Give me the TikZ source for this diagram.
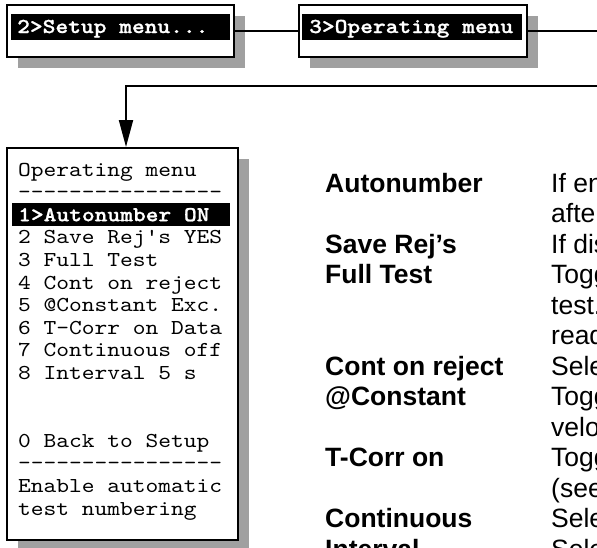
\documentclass[tikz,border=0pt]{standalone}
\usepackage{fontspec}
\setmainfont{Liberation Sans}
\setmonofont{lmmono10-regular.otf}[FakeStretch=1.143, BoldFont=lmmonolt10-bold.otf, BoldFeatures={FakeStretch=1.143, FakeBold=1}]
\usetikzlibrary{shadows,arrows.meta}
\definecolor{shadowgray}{RGB}{160,160,160}
\tikzset{
  menubox/.style={draw=black, line width=2pt, fill=white, inner sep=0pt,
    drop shadow={shadow xshift=11pt, shadow yshift=-11pt, fill=shadowgray, opacity=1}},
  hilite/.style={fill=black, inner sep=0pt, anchor=north west},
  montxt/.style={anchor=base west, inner sep=0pt, font=\ttfamily\fontsize{21.25}{22.6}\selectfont},
  monsel/.style={montxt, text=white, font=\ttfamily\bfseries\fontsize{21.25}{22.6}\selectfont},
  lbl/.style={anchor=base west, inner sep=0pt, font=\bfseries\fontsize{26.5}{30.5}\selectfont},
  dsc/.style={anchor=base west, inner sep=0pt, font=\fontsize{26.5}{30.5}\selectfont},
  conn/.style={line width=2pt}
}
\begin{document}
\begin{tikzpicture}[x=1pt,y=-1pt]
\useasboundingbox (0,0) rectangle (597,547);
\clip (0,0) rectangle (597,547);
% top boxes
\node[menubox, minimum width=227pt, minimum height=52pt] (setup) at (120.5,31) {};
\node[hilite, minimum width=219pt, minimum height=26pt] (hl1) at (11,14) {};
\node[monsel] (t1) at (17,33) {2>Setup menu...};
\node[menubox, minimum width=228pt, minimum height=52pt] (opm) at (413,31) {};
\node[hilite, minimum width=220pt, minimum height=26pt] (hl2) at (302,14) {};
\node[monsel] (t2) at (309,33) {3>Operating menu};
% connectors
\coordinate (r1) at (597,31);
\coordinate (r2) at (597,86);
\coordinate (bend) at (126,86);
% list box
\node[menubox, minimum width=231pt, minimum height=392pt] (list) at (122.5,344) {};
\draw[conn] (setup.east) -- (opm.west);
\draw[conn] (opm.east) -- (r1);
\draw[conn, -{Triangle[length=27pt,width=14pt]}] (r2) -- (bend) -- (bend |- list.north);
\node[hilite, minimum width=218pt, minimum height=23pt] (hl3) at (12,203) {};
\node[montxt] (l0) at (18,176) {Operating menu};
\node[montxt] (l1) at (18,198.6) {----------------};
\node[monsel] (l2) at (18,221.2) {1>Autonumber ON};
\node[montxt] (l3) at (18,243.8) {2 Save Rej's YES};
\node[montxt] (l4) at (18,266.4) {3 Full Test};
\node[montxt] (l5) at (18,289.0) {4 Cont on reject};
\node[montxt] (l6) at (18,311.6) {5 @Constant Exc.};
\node[montxt] (l7) at (18,334.2) {6 T-Corr on Data};
\node[montxt] (l8) at (18,356.8) {7 Continuous off};
\node[montxt] (l9) at (18,379.4) {8 Interval 5 s};
\node[montxt] (l12) at (18,447.2) {0 Back to Setup};
\node[montxt] (l13) at (18,469.8) {----------------};
\node[montxt] (l14) at (18,492.4) {Enable automatic};
\node[montxt] (l15) at (18,515.0) {test numbering};
% right side descriptions
\node[lbl] (a0) at (325,192) {Autonumber};
\node[dsc] (d0) at (551,192) {If enabled};
\node[dsc] (d1) at (551,222.5) {after};
\node[lbl] (a2) at (325,253) {Save Rej’s};
\node[dsc] (d2) at (551,253) {If disabled};
\node[lbl] (a3) at (325,283.5) {Full Test};
\node[dsc] (d3) at (551,283.5) {Toggles};
\node[dsc] (d4) at (551,314) {test.};
\node[dsc] (d5) at (551,344.5) {reading};
\node[lbl] (a6) at (325,375) {Cont on reject};
\node[dsc] (d6) at (551,375) {Selects};
\node[lbl] (a7) at (325,405.5) {@Constant};
\node[dsc] (d7) at (551,405.5) {Toggles};
\node[dsc] (d8) at (551,436) {velocity};
\node[lbl] (a9) at (325,466.5) {T-Corr on};
\node[dsc] (d9) at (551,466.5) {Toggles};
\node[dsc] (d10) at (551,497) {(see};
\node[lbl] (a11) at (325,527.5) {Continuous};
\node[dsc] (d11) at (551,527.5) {Selects};
\node[lbl] (a12) at (325,558) {Interval};
\node[dsc] (d12) at (551,558) {Selects};
\end{tikzpicture}
\end{document}
